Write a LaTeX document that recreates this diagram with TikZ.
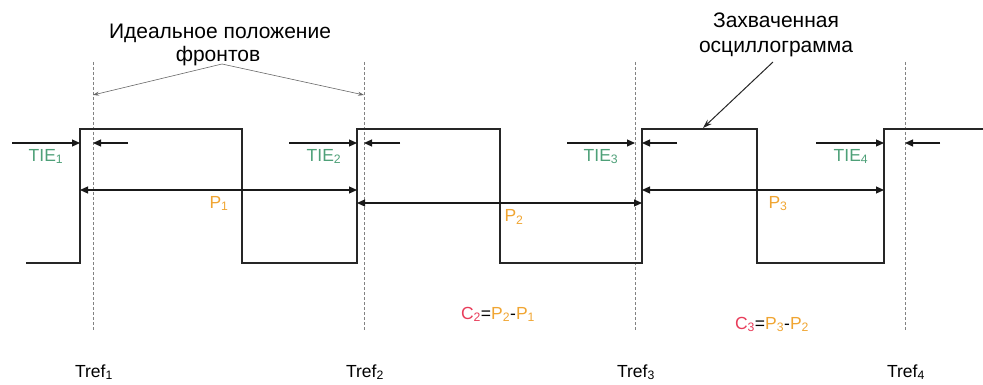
\documentclass[tikz,border=0pt]{standalone}
\usepackage{fontspec}
\setmainfont{Liberation Sans}
\usetikzlibrary{arrows.meta}
\definecolor{tiecol}{RGB}{78,160,120}
\definecolor{pcol}{RGB}{240,165,50}
\definecolor{ccol}{RGB}{232,60,90}
\definecolor{dashcol}{RGB}{130,130,130}
\begin{document}
\begin{tikzpicture}[x=1pt,y=-1pt,
  wave/.style={line width=1.6pt, black!85},
  refline/.style={dashcol, dashed, line width=0.7pt, dash pattern=on 3pt off 2pt},
  meas/.style={line width=1.2pt, black!90, -{Triangle[length=8pt,width=7pt]}},
  meas2/.style={line width=1.2pt, black!90, {Triangle[length=8pt,width=7pt]}-{Triangle[length=8pt,width=7pt]}},
  callout/.style={dashcol!80!black, line width=0.6pt, -{Stealth[length=6pt,width=4pt]}},
  callblack/.style={black!85, line width=1pt, -{Stealth[length=9pt,width=6pt]}},
  lbl/.style={font=\fontsize{17.5}{20}\selectfont, inner sep=0pt, anchor=base},
  head/.style={font=\fontsize{21}{24}\selectfont, inner sep=0pt, anchor=base},
]
\useasboundingbox (0,0) rectangle (983,385);
% reference lines
\foreach \n/\x in {1/93,2/364,3/635,4/905}{
  \coordinate (rt\n) at (\x,62);
  \coordinate (rb\n) at (\x,330);
  \draw[refline] (rt\n) -- (rb\n);
}
% waveform coordinates
\coordinate (w0) at (26,263);
\coordinate (e1) at (80,263);  \coordinate (e1h) at (80,129);
\coordinate (f1h) at (242,129); \coordinate (f1) at (242,263);
\coordinate (e2) at (357,263); \coordinate (e2h) at (357,129);
\coordinate (f2h) at (500,129); \coordinate (f2) at (500,263);
\coordinate (e3) at (642,263); \coordinate (e3h) at (642,129);
\coordinate (f3h) at (757,129); \coordinate (f3) at (757,263);
\coordinate (e4) at (884,263); \coordinate (e4h) at (884,129);
\coordinate (wend) at (983,129);
\draw[wave, line join=miter] (w0) -- (e1) -- (e1h) -- (f1h) -- (f1) -- (e2) -- (e2h) -- (f2h) -- (f2) -- (e3) -- (e3h) -- (f3h) -- (f3) -- (e4) -- (e4h) -- (wend);
% TIE arrows
\coordinate (t1a) at (12,143);  \coordinate (t1b) at (80,143);
\coordinate (t1c) at (128,143); \coordinate (t1d) at (93,143);
\coordinate (t2a) at (289,143); \coordinate (t2b) at (357,143);
\coordinate (t2c) at (400,143); \coordinate (t2d) at (364,143);
\coordinate (t3a) at (567,143); \coordinate (t3b) at (635,143);
\coordinate (t3c) at (677,143); \coordinate (t3d) at (642,143);
\coordinate (t4a) at (816,143); \coordinate (t4b) at (884,143);
\coordinate (t4c) at (940,143); \coordinate (t4d) at (905,143);
\foreach \n in {1,2,3,4}{
  \draw[meas] (t\n a) -- (t\n b);
  \draw[meas] (t\n c) -- (t\n d);
}
\node[lbl, text=tiecol] (tie1) at (46,161) {TIE\textsubscript{1}};
\node[lbl, text=tiecol] (tie2) at (324,161) {TIE\textsubscript{2}};
\node[lbl, text=tiecol] (tie3) at (601,161) {TIE\textsubscript{3}};
\node[lbl, text=tiecol] (tie4) at (851,161) {TIE\textsubscript{4}};
% period arrows
\coordinate (p1a) at (80,190);  \coordinate (p1b) at (357,190);
\coordinate (p2a) at (357,203); \coordinate (p2b) at (642,203);
\coordinate (p3a) at (642,190); \coordinate (p3b) at (884,190);
\draw[meas2] (p1a) -- (p1b);
\draw[meas2] (p2a) -- (p2b);
\draw[meas2] (p3a) -- (p3b);
\node[lbl, text=pcol] (P1) at (219,208) {P\textsubscript{1}};
\node[lbl, text=pcol] (P2) at (514,222) {P\textsubscript{2}};
\node[lbl, text=pcol] (P3) at (778,208) {P\textsubscript{3}};
% formulas
\node[lbl] (C2) at (498,319) {\textcolor{ccol}{C\textsubscript{2}}=\textcolor{pcol}{P\textsubscript{2}}-\textcolor{pcol}{P\textsubscript{1}}};
\node[lbl] (C3) at (772,329) {\textcolor{ccol}{C\textsubscript{3}}=\textcolor{pcol}{P\textsubscript{3}}-\textcolor{pcol}{P\textsubscript{2}}};
% Tref labels
\node[lbl] (tr1) at (94,377) {Tref\textsubscript{1}};
\node[lbl] (tr2) at (365,377) {Tref\textsubscript{2}};
\node[lbl] (tr3) at (636,377) {Tref\textsubscript{3}};
\node[lbl] (tr4) at (906,377) {Tref\textsubscript{4}};
% headings
\node[head] (h1a) at (220,39) {Идеальное положение};
\node[head] (h1b) at (218,62) {фронтов};
\coordinate (apex) at (222,64);
\coordinate (ia) at (93,95);
\coordinate (ib) at (364,95);
\draw[callout] (apex) -- (ia);
\draw[callout] (apex) -- (ib);
\node[head] (h2a) at (776,28) {Захваченная};
\node[head] (h2b) at (776,53) {осциллограмма};
\coordinate (c0) at (773,62);
\coordinate (c1) at (703,128);
\draw[callblack] (c0) -- (c1);
\end{tikzpicture}
\end{document}
